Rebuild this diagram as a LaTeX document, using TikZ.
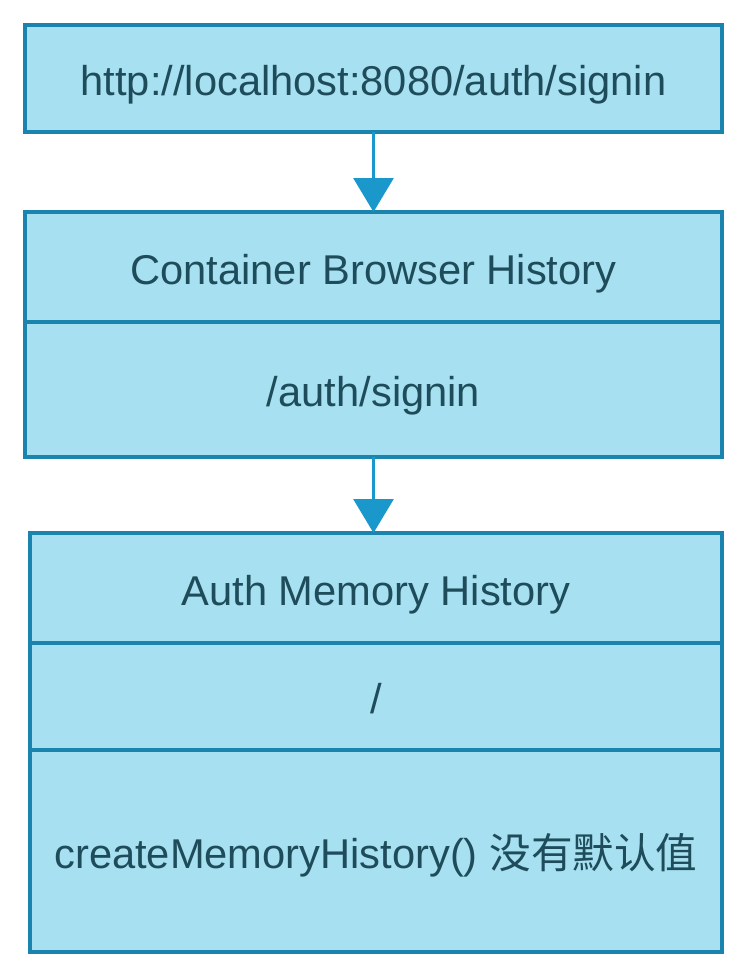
\documentclass[tikz,border=0pt]{standalone}
\usepackage{fontspec}
\setmainfont{Liberation Sans}
\newfontfamily\cjk{Noto Sans CJK SC}
\usetikzlibrary{positioning,arrows.meta}

\definecolor{cellfill}{HTML}{A6E0F1}
\definecolor{cellline}{HTML}{1A84AE}
\definecolor{arrowcol}{HTML}{1B98CB}
\definecolor{celltext}{HTML}{1E4C5A}

\tikzset{
  cell/.style={draw=cellline, fill=cellfill, line width=2pt, outer sep=0pt,
    inner sep=0pt, minimum width=13.94cm, text=celltext,
    text height=19.6pt, text depth=0pt,
    font=\fontsize{23.7pt}{28pt}\selectfont},
  flow/.style={-{Triangle[width=0.8cm,length=0.68cm]}, draw=arrowcol, line width=1.7pt}
}

\begin{document}
\begin{tikzpicture}
  \useasboundingbox (0,0) rectangle (15,-19.6);

  % top address box
  \node[cell, minimum height=2.14cm] (url) at (7.47,-1.57) {http://localhost:8080/auth/signin};

  % container history
  \node[cell, minimum height=2.2cm, below=1.6cm of url] (cbh) {Container Browser History};
  \node[cell, minimum height=2.7cm, below=0pt of cbh] (cbhpath) {/auth/signin};

  % auth history
  \node[cell, minimum height=2.2cm, minimum width=13.84cm, below=1.52cm of cbhpath, xshift=0.05cm] (amh) {Auth Memory History};
  \node[cell, minimum height=2.14cm, minimum width=13.84cm, below=0pt of amh] (amhpath) {/};
  \node[cell, minimum height=4.04cm, minimum width=13.84cm, below=0pt of amhpath] (amhcall) {createMemoryHistory() {\cjk 没有默认值}};

  \draw[flow] (url.south) -- (cbh.north);
  \draw[flow] (cbhpath.south) -- (cbhpath.south |- amh.north);
\end{tikzpicture}
\end{document}
